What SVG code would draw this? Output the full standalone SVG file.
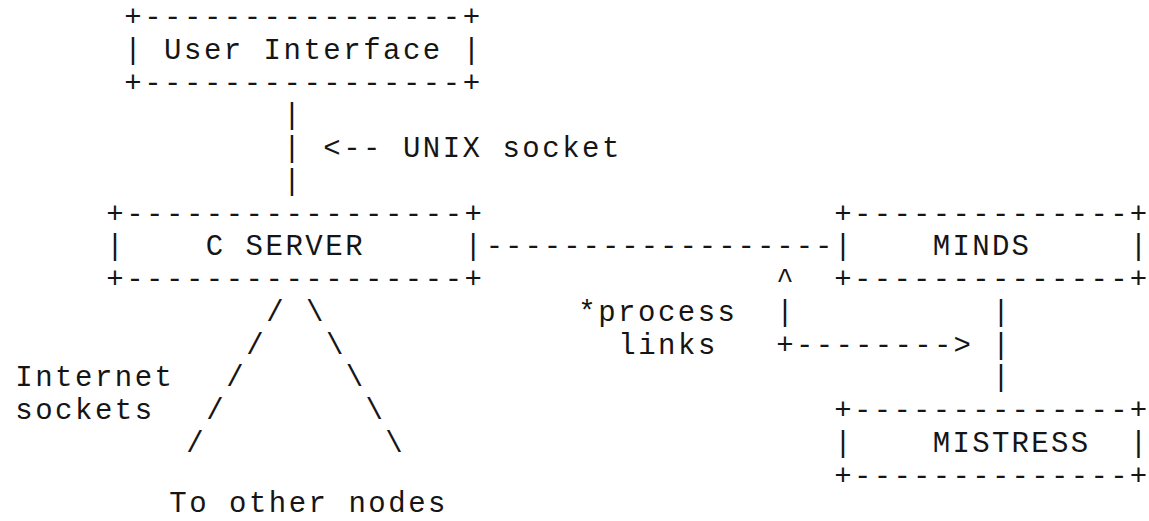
<svg xmlns="http://www.w3.org/2000/svg" width="1149" height="521" viewBox="0 0 1149 521" xml:space="preserve">
<style>
text { font-family: "Liberation Mono", "Courier New", monospace; font-size: 29px; fill: #151515; letter-spacing: 2.5px; white-space: pre; }
.r { letter-spacing: 2.3px; }
.cd { letter-spacing: 1.97px; }
</style>
<rect x="0" y="0" width="1149" height="521" fill="#ffffff"/>
<g id="user-interface">
<text x="124.3" y="26">+----------------+</text>
<text x="124.3" y="59">| User Interface |</text>
<text x="124.3" y="91.5">+----------------+</text>
</g>
<g id="c-server">
<text x="106.3" y="222.5">+-----------------+</text>
<text x="106.3" y="255">|    C SERVER     |</text>
<text x="106.3" y="288">+-----------------+</text>
</g>
<g id="minds">
<text class="r" x="834.3" y="222.5">+--------------+</text>
<text class="r" x="834.3" y="255">|    MINDS     |</text>
<text class="r" x="834.3" y="288">+--------------+</text>
</g>
<g id="mistress">
<text class="r" x="834.3" y="419">+--------------+</text>
<text class="r" x="834.3" y="452">|    MISTRESS  |</text>
<text class="r" x="834.3" y="484.5">+--------------+</text>
</g>
<g id="connectors">
<g id="ui-to-server">
<text x="283.3" y="124">|</text>
<text x="283.3" y="157">|</text>
<text x="283.3" y="190">|</text>
</g>
<g id="server-to-minds">
<text class="cd" x="485.7" y="255">------------------</text>
</g>
<g id="minds-to-mistress">
<text class="r" x="992.3" y="321">|</text>
<text class="r" x="992.3" y="353.5">|</text>
<text class="r" x="992.3" y="386">|</text>
</g>
<g id="process-links-arrow">
<text class="r" x="776.3" y="288">^</text>
<text class="r" x="776.3" y="321">|</text>
<text class="r" x="776.3" y="353.5">+--------&gt;</text>
</g>
<g id="internet-sockets">
<text x="266.3" y="321">/ \</text>
<text x="246.3" y="353.5">/   \</text>
<text x="226.3" y="386">/     \</text>
<text x="206.3" y="419">/       \</text>
<text x="186.3" y="452">/         \</text>
</g>
</g>
<g id="labels">
<text id="unix-socket-label" x="323.3" y="157">&lt;-- UNIX socket</text>
<g id="process-links-label">
<text x="578.3" y="321">*process</text>
<text x="618.3" y="353.5">links</text>
</g>
<g id="internet-sockets-label">
<text x="15.3" y="386">Internet</text>
<text x="15.3" y="419">sockets</text>
</g>
<text id="other-nodes-label" x="169.3" y="512">To other nodes</text>
</g>
</svg>
